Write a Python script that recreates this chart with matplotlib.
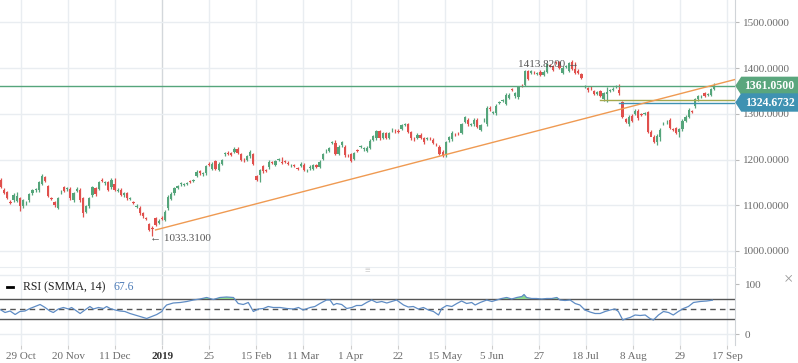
import matplotlib
matplotlib.use("Agg")
import matplotlib.pyplot as plt
import matplotlib.transforms as mtrans
from matplotlib.patches import Polygon
import numpy as np

plt.rcParams["font.family"] = ["Liberation Serif", "DejaVu Serif"]

# 蜡烛数据（开盘 / 收盘），按交易日顺序
opens = [1156, 1134, 1129, 1108, 1111, 1110, 1115, 1098, 1104, 1111, 1126, 1133, 1133, 1147, 1161,
         1142, 1116, 1107, 1094, 1128, 1139, 1135, 1136, 1111, 1132, 1134, 1115, 1085, 1098, 1122,
         1138, 1136, 1156, 1148, 1151, 1139, 1146, 1132, 1134, 1122, 1127, 1114, 1107, 1097, 1095,
         1083, 1072, 1059, 1051, 1072, 1061, 1073, 1068, 1093, 1114, 1126, 1138, 1146, 1145, 1147,
         1152, 1153, 1164, 1175, 1168, 1170, 1191, 1180, 1196, 1178, 1191, 1211, 1215, 1214, 1217,
         1224, 1212, 1200, 1200, 1207, 1212, 1164, 1166, 1185, 1176, 1183, 1194, 1188, 1199, 1195,
         1196, 1193, 1187, 1187, 1181, 1186, 1189, 1176, 1181, 1180, 1188, 1184, 1202, 1218, 1219,
         1237, 1236, 1212, 1231, 1228, 1210, 1212, 1202, 1220, 1228, 1222, 1219, 1226, 1243, 1246,
         1262, 1248, 1258, 1248, 1264, 1263, 1263, 1267, 1276, 1277, 1260, 1247, 1248, 1254, 1247,
         1245, 1247, 1243, 1234, 1228, 1217, 1209, 1242, 1244, 1256, 1258, 1259, 1282, 1287, 1276,
         1277, 1287, 1265, 1286, 1277, 1313, 1302, 1301, 1324, 1329, 1322, 1335, 1353, 1338, 1336,
         1363, 1363, 1393, 1389, 1390, 1388, 1392, 1385, 1392, 1406, 1404, 1413, 1414, 1389, 1403,
         1394, 1414, 1398, 1394, 1386, 1359, 1356, 1357, 1349, 1343, 1350, 1332, 1343, 1350, 1353,
         1359, 1351, 1325, 1288, 1277, 1296, 1300, 1307, 1299, 1300, 1304, 1261, 1250, 1239, 1249,
         1279, 1281, 1287, 1266, 1269, 1261, 1266, 1285, 1294, 1306, 1316, 1332, 1338, 1345, 1342,
         1342, 1354]
closes = [1140, 1127, 1116, 1106, 1123, 1120, 1098, 1111, 1106, 1124, 1133, 1135, 1151, 1163, 1153,
          1120, 1114, 1100, 1115, 1130, 1131, 1137, 1115, 1127, 1136, 1111, 1083, 1098, 1115, 1139,
          1124, 1151, 1154, 1151, 1134, 1156, 1134, 1134, 1123, 1127, 1115, 1116, 1105, 1099, 1082,
          1076, 1070, 1046, 1049, 1057, 1066, 1071, 1086, 1119, 1125, 1137, 1142, 1148, 1146, 1148,
          1151, 1154, 1173, 1170, 1170, 1185, 1189, 1191, 1180, 1191, 1199, 1214, 1213, 1210, 1224,
          1214, 1199, 1198, 1207, 1217, 1191, 1155, 1177, 1174, 1175, 1195, 1193, 1197, 1200, 1193,
          1195, 1190, 1188, 1186, 1180, 1191, 1178, 1177, 1184, 1188, 1184, 1195, 1212, 1219, 1225,
          1238, 1212, 1228, 1238, 1209, 1209, 1197, 1214, 1219, 1229, 1225, 1226, 1241, 1251, 1262,
          1246, 1257, 1248, 1257, 1265, 1262, 1261, 1275, 1277, 1260, 1246, 1246, 1254, 1247, 1238,
          1246, 1246, 1236, 1233, 1212, 1209, 1238, 1249, 1259, 1255, 1257, 1277, 1293, 1277, 1277,
          1287, 1271, 1275, 1287, 1313, 1310, 1303, 1318, 1325, 1330, 1342, 1342, 1352, 1345, 1358,
          1362, 1393, 1377, 1393, 1389, 1389, 1385, 1392, 1409, 1405, 1396, 1412, 1401, 1401, 1404,
          1411, 1398, 1390, 1389, 1378, 1360, 1351, 1356, 1343, 1347, 1339, 1345, 1347, 1351, 1355,
          1360, 1345, 1294, 1282, 1294, 1285, 1307, 1290, 1298, 1301, 1261, 1250, 1239, 1252, 1265,
          1280, 1283, 1269, 1265, 1259, 1266, 1285, 1294, 1309, 1305, 1332, 1338, 1339, 1339, 1343,
          1354, 1363]
# 个别较长影线
high_extra = {5: 1128, 13: 1168, 36: 1160, 79: 1220, 89: 1206, 106: 1243, 155: 1316,
              167: 1395, 177: 1416, 182: 1413.82, 192: 1358, 196: 1365, 226: 1368}
low_extra = {6: 1087, 26: 1075, 48: 1033.31, 44: 1078, 82: 1150, 131: 1240, 141: 1205,
             192: 1325, 206: 1255, 208: 1232, 209: 1240, 215: 1250}

rsi_x = [0, 1.3, 2.9, 4.5, 6.0, 7.6, 9.2, 10.8, 12.4, 14.0, 15.5, 16.6, 18.2, 19.8, 21.4, 22.4,
         24.0, 25.1, 26.6, 28.2, 29.3, 30.9, 32.5, 33.5, 34.6, 36.2, 37.7, 39.3, 40.9, 42.5, 44.1,
         46.2, 47.8, 49.4, 51.0, 51.5, 52.5, 54.6, 56.8, 58.9, 61.0, 63.1, 65.2, 67.3, 69.4, 71.5,
         73.7, 75.2, 76.8, 78.4, 80.0, 81.6, 83.2, 84.7, 86.3, 88.5, 90.6, 92.7, 94.3, 95.8, 98.0,
         99.5, 101.1, 103.2, 104.3, 105.4, 106.4, 108.0, 109.6, 111.2, 112.7, 114.3, 115.9, 117.5,
         119.1, 120.7, 122.3, 123.8, 125.4, 127.6, 129.1, 130.7, 132.3, 133.9, 135.5, 137.1, 138.7,
         139.7, 141.3, 142.9, 144.5, 146.0, 147.6, 149.2, 150.3, 151.9, 154.0, 155.6, 157.1, 158.7,
         160.3, 161.9, 163.5, 165.1, 165.8, 166.6, 168.2, 169.8, 171.4, 173.0, 174.6, 176.2, 177.2,
         178.8, 180.4, 182.0, 183.5, 185.1, 186.7, 188.3, 189.9, 191.5, 193.1, 194.6, 195.7, 197.1,
         198.3, 199.4, 201.0, 202.6, 204.2, 205.7, 206.8, 208.4, 210.0, 211.6, 213.1, 214.7, 216.3,
         217.9, 219.5, 221.6, 223.7, 225.5]
rsi_v = [48, 43, 46, 39, 45, 46, 51, 55, 59, 53, 46, 43, 50, 53, 50, 53, 46, 41, 48, 55, 50, 53,
         51, 55, 51, 48, 46, 45, 41, 38, 35, 31, 35, 39, 45, 51, 58, 62, 63, 65, 68, 70, 73, 69, 73,
         74, 73, 61, 59, 63, 45, 50, 51, 55, 53, 53, 51, 50, 53, 48, 53, 55, 61, 68, 68, 58, 61, 59,
         51, 53, 57, 57, 63, 68, 63, 65, 62, 65, 68, 58, 54, 55, 50, 53, 48, 45, 38, 51, 57, 55, 61,
         66, 61, 63, 58, 63, 68, 65, 68, 71, 73, 70, 73, 75, 79, 73, 71, 71, 70, 71, 71, 73, 68, 67,
         68, 61, 58, 48, 44, 41, 41, 45, 48, 50, 45, 28, 31, 33, 38, 37, 38, 31, 28, 38, 45, 43, 38,
         45, 51, 55, 63, 65, 66, 67.6]

tick_labels = ["29 Oct", "20 Nov", "11 Dec", "2019", "25", "15 Feb", "11 Mar", "1 Apr", "22",
               "15 May", "5 Jun", "27", "18 Jul", "8 Aug", "29", "17 Sep"]
price_ticks = [1000, 1100, 1200, 1300, 1400, 1500]

low_point = (48, 1033.31)
high_point = (182, 1413.82)
last_price = 1361.05
level_blue = 1324.6732
level_olive = 1331
trend_a = (49, 1046)
trend_b = (140, 1209)

GREEN = "#55a57b"
RED = "#e0504d"
GRID = "#e9edf1"
TXT = "#6b6b6b"

W, H = 798, 363
fig = plt.figure(figsize=(W / 100, H / 100), dpi=100)
ax = fig.add_axes([0, 1 - 267 / H, 735 / W, 267 / H])
ax2 = fig.add_axes([0, 1 - 345 / H, 735 / W, 77 / H], sharex=ax)

n = len(closes)
x = np.arange(n)
o = np.array(opens, float)
c = np.array(closes, float)
hi = np.maximum(o, c) + 3
lo = np.minimum(o, c) - 3
for k, v in high_extra.items():
    hi[k] = v
for k, v in low_extra.items():
    lo[k] = v
up = c >= o
cols = np.where(up, GREEN, RED)

ax.vlines(x, lo, hi, colors=cols, lw=0.9, zorder=3)
body = np.maximum(np.abs(c - o), 1.2)
ax.bar(x, body, bottom=np.minimum(o, c), width=0.72, color=cols, lw=0, zorder=4)

x0 = -0.3
x1 = x0 + 735 / 3.155
ax.set_xlim(x0, x1)
ax.set_ylim(965, 1548.8)

ticks = [x0 + 21 / 3.155 + i * 14.92 for i in range(len(tick_labels))]

# 网格
for t, lab in zip(ticks, tick_labels):
    gc = "#d3d7db" if lab == "2019" else GRID
    ax.axvline(t, color=gc, lw=1, zorder=0)
    ax2.axvline(t, color=gc, lw=1, zorder=0)
for p in price_ticks:
    ax.axhline(p, color=GRID, lw=1, zorder=0)

ax.yaxis.tick_right()
ax.set_yticks(price_ticks)
ax.set_yticklabels([f"{p:.4f}" for p in price_ticks])
ax.tick_params(axis="y", length=3, color="#bbbbbb", labelsize=8, labelcolor=TXT, pad=3)
ax.tick_params(axis="x", bottom=False, labelbottom=False)
for s in ["top", "left"]:
    ax.spines[s].set_visible(False)
ax.spines["right"].set_color("#d0d4d8")
ax.spines["bottom"].set_color(GRID)

# 水平线和趋势线
ax.axhline(last_price, color=GREEN, lw=1, zorder=5)
ax.plot([x[190], x1], [level_olive, level_olive], color="#a3a84e", lw=1, zorder=5)
ax.plot([x[196], x1], [level_blue, level_blue], color="#3e93b3", lw=1, zorder=5)
slope = (trend_b[1] - trend_a[1]) / (trend_b[0] - trend_a[0])
ax.plot([trend_a[0], x1], [trend_a[1], trend_a[1] + slope * (x1 - trend_a[0])],
        color="#ef9a52", lw=1, zorder=5)

ax.text(low_point[0] - 0.6, low_point[1] - 7, "\u2190 1033.3100", fontsize=8, color="#555555",
        va="center", ha="left", zorder=6)
ax.text(high_point[0] + 1.3, high_point[1] - 5, "1413.8200 \u2192", fontsize=8, color="#555555",
        va="center", ha="right", zorder=6)

# 右侧价格标签
bt = mtrans.blended_transform_factory(ax.transAxes, ax.transData)
hh = 8.5 / 0.4574
xr = W / 735
for val, col in [(last_price, "#5aa67d"), (level_blue, "#3f92b2")]:
    poly = Polygon([(1.0015, val), (1.009, val + hh), (xr, val + hh), (xr, val - hh), (1.009, val - hh)],
                   closed=True, transform=bt, color=col, clip_on=False, zorder=10)
    ax.add_patch(poly)
    ax.text(1.047, val, f"{val:.4f}", transform=bt, color="white", fontsize=8.5,
            fontweight="bold", ha="center", va="center", zorder=11, clip_on=False)

# RSI
ax2.set_ylim(-22, 132)
ax2.axhline(0, color=GRID, lw=1, zorder=0)
ax2.axhline(118, color=GRID, lw=1, zorder=0)
ax2.axhline(70, color="#555555", lw=1)
ax2.axhline(30, color="#555555", lw=1)
ax2.axhline(50, color="#555555", lw=1, ls=(0, (4, 3)))
rx = np.array(rsi_x)
rv = np.array(rsi_v, float)
ax2.fill_between(rx, rv, 70, where=rv > 70, interpolate=True, color="#8ed98e", lw=0, zorder=2)
ax2.plot(rx, rv, color="#5f8cc4", lw=0.9, zorder=3)

ax2.yaxis.tick_right()
ax2.set_yticks([0, 100])
ax2.tick_params(axis="y", length=3, color="#bbbbbb", labelsize=8, labelcolor=TXT, pad=4)
ax2.set_xticks(ticks)
ax2.set_xticklabels(tick_labels)
ax2.tick_params(axis="x", length=3, color="#cccccc", labelsize=8, labelcolor=TXT, pad=2)
for lab in ax2.get_xticklabels():
    if lab.get_text() == "2019":
        lab.set_fontweight("bold")
        lab.set_color("#333333")
for s in ["top", "left", "bottom"]:
    ax2.spines[s].set_visible(False)
ax2.spines["right"].set_color("#d0d4d8")
ax2.patch.set_alpha(0)

# 图例
fig.lines.append(plt.Line2D([7 / W, 13 / W], [1 - 287 / H] * 2, color="black", lw=2,
                            transform=fig.transFigure))
fig.text(23 / W, 1 - 287 / H, "RSI (SMMA, 14)", fontsize=8.5, color="#222222", va="center")
fig.text(114 / W, 1 - 287 / H, "67.6", fontsize=8.5, color="#4f7db8", va="center")
fig.text(367 / W, 1 - 270 / H, "\u2261", fontsize=7, color="#c8c8c8", ha="center", va="center")
fig.text(788 / W, 1 - 279 / H, "\u00d7", fontsize=12, color="#999999", ha="center", va="center")

fig.savefig("out.png", dpi=100, facecolor="white")
